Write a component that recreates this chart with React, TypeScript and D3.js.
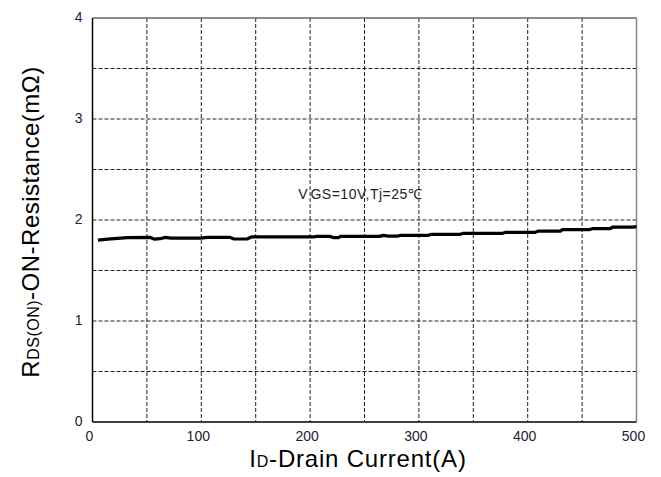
import { useRef, useEffect } from "react"
import * as d3 from "d3"

// drain current (A) and on-resistance (mOhm)
const currentA = [5, 14, 32, 53, 57, 62, 67, 72, 99, 106, 126, 130, 142, 146, 172, 203, 206, 218, 222, 226, 228, 264, 267, 272, 280, 283, 308, 311, 338, 341, 377, 380, 407, 410, 430, 432, 457, 460, 476, 478, 497, 500]
const rdsOn = [1.8, 1.81, 1.825, 1.828, 1.81, 1.815, 1.828, 1.82, 1.82, 1.828, 1.828, 1.812, 1.812, 1.832, 1.832, 1.832, 1.838, 1.838, 1.825, 1.825, 1.838, 1.838, 1.848, 1.84, 1.84, 1.847, 1.847, 1.857, 1.858, 1.868, 1.868, 1.878, 1.878, 1.89, 1.89, 1.905, 1.905, 1.915, 1.915, 1.93, 1.93, 1.935]

const xTicks = [0, 100, 200, 300, 400, 500]
const yTicks = [0, 1, 2, 3, 4]
const xGrid = [50, 100, 150, 200, 250, 300, 350, 400, 450]
const yGrid = [0.5, 1, 1.5, 2, 2.5, 3, 3.5]

export default function App() {
  const svgRef = useRef<SVGSVGElement>(null)

  useEffect(() => {
    if (!svgRef.current) return
    const svg = d3.select(svgRef.current)
    svg.selectAll("*").remove()

    const width = 661
    const height = 477
    const margin = { top: 18, right: 24.5, bottom: 55, left: 92.5 }
    const innerWidth = width - margin.left - margin.right
    const innerHeight = height - margin.top - margin.bottom

    const xScale = d3.scaleLinear().domain([0, 500]).range([0, innerWidth])
    const yScale = d3.scaleLinear().domain([0, 4]).range([innerHeight, 0])

    const g = svg.append("g").attr("transform", `translate(${margin.left}, ${margin.top})`)

    g.append("rect").attr("width", innerWidth).attr("height", innerHeight).attr("fill", "#fff")

    // dashed grid
    g.selectAll(".vgrid")
      .data(xGrid)
      .join("line")
      .attr("x1", (d) => xScale(d))
      .attr("x2", (d) => xScale(d))
      .attr("y1", 0)
      .attr("y2", innerHeight)
      .attr("stroke", "#222")
      .attr("stroke-width", 1)
      .attr("stroke-dasharray", "4,2")

    g.selectAll(".hgrid")
      .data(yGrid)
      .join("line")
      .attr("x1", 0)
      .attr("x2", innerWidth)
      .attr("y1", (d) => yScale(d))
      .attr("y2", (d) => yScale(d))
      .attr("stroke", "#222")
      .attr("stroke-width", 1)
      .attr("stroke-dasharray", "4,2")

    // frame
    g.append("line").attr("x1", 0).attr("x2", innerWidth).attr("y1", 0).attr("y2", 0).attr("stroke", "#666").attr("stroke-width", 1.5)
    g.append("line").attr("x1", innerWidth).attr("x2", innerWidth).attr("y1", 0).attr("y2", innerHeight).attr("stroke", "#888").attr("stroke-width", 1.5)
    g.append("line").attr("x1", 0).attr("x2", 0).attr("y1", 0).attr("y2", innerHeight).attr("stroke", "#000").attr("stroke-width", 1.5)
    g.append("line").attr("x1", 0).attr("x2", innerWidth).attr("y1", innerHeight).attr("y2", innerHeight).attr("stroke", "#000").attr("stroke-width", 1.5)

    // tick labels
    g.selectAll(".xtick")
      .data(xTicks)
      .join("text")
      .attr("x", (d) => xScale(d) - 3)
      .attr("y", innerHeight + 19)
      .attr("text-anchor", "middle")
      .attr("font-size", "14px")
      .attr("fill", "#1c2233")
      .text((d) => d)

    g.selectAll(".ytick")
      .data(yTicks)
      .join("text")
      .attr("x", -10)
      .attr("y", (d) => yScale(d) - 1)
      .attr("dy", "0.35em")
      .attr("text-anchor", "end")
      .attr("font-size", "14px")
      .attr("fill", "#1c2233")
      .text((d) => d)

    // curve
    const line = d3
      .line<number>()
      .x((d) => xScale(d))
      .y((_, i) => yScale(rdsOn[i]))

    g.append("path")
      .datum(currentA)
      .attr("d", line)
      .attr("fill", "none")
      .attr("stroke", "#000")
      .attr("stroke-width", 3.2)
      .attr("stroke-linejoin", "round")

    // condition label
    const note = g
      .append("text")
      .attr("x", xScale(189))
      .attr("y", yScale(2.2) - 1)
      .attr("fill", "#222")
      .attr("font-size", "14px")
    note.append("tspan").text("V")
    note.append("tspan").attr("dx", 3).attr("letter-spacing", "0.5px").text("GS=10V,Tj=25℃")

    // axis titles
    const xTitle = svg
      .append("text")
      .attr("x", 358)
      .attr("y", 467)
      .attr("text-anchor", "middle")
      .attr("font-size", "24px")
      .attr("letter-spacing", "0.8px")
      .attr("fill", "#000")
    xTitle.append("tspan").text("I")
    xTitle.append("tspan").attr("font-size", "16px").text("D")
    xTitle.append("tspan").text("-Drain Current(A)")

    const yTitle = svg
      .append("text")
      .attr("transform", `translate(39, 222) rotate(-90)`)
      .attr("text-anchor", "middle")
      .attr("font-size", "24px")
      .attr("letter-spacing", "0.5px")
      .attr("fill", "#000")
    yTitle.append("tspan").text("R")
    yTitle.append("tspan").attr("font-size", "16px").text("DS(ON)")
    yTitle.append("tspan").text("-ON-Resistance(mΩ)")
  }, [])

  return (
    <div style={{ position: "fixed", left: 0, top: 0, width: 661, height: 477, background: "#fff" }}>
      <svg
        ref={svgRef}
        width={661}
        height={477}
        style={{ display: "block", fontFamily: "Arial, 'Liberation Sans', sans-serif" }}
      />
    </div>
  )
}
